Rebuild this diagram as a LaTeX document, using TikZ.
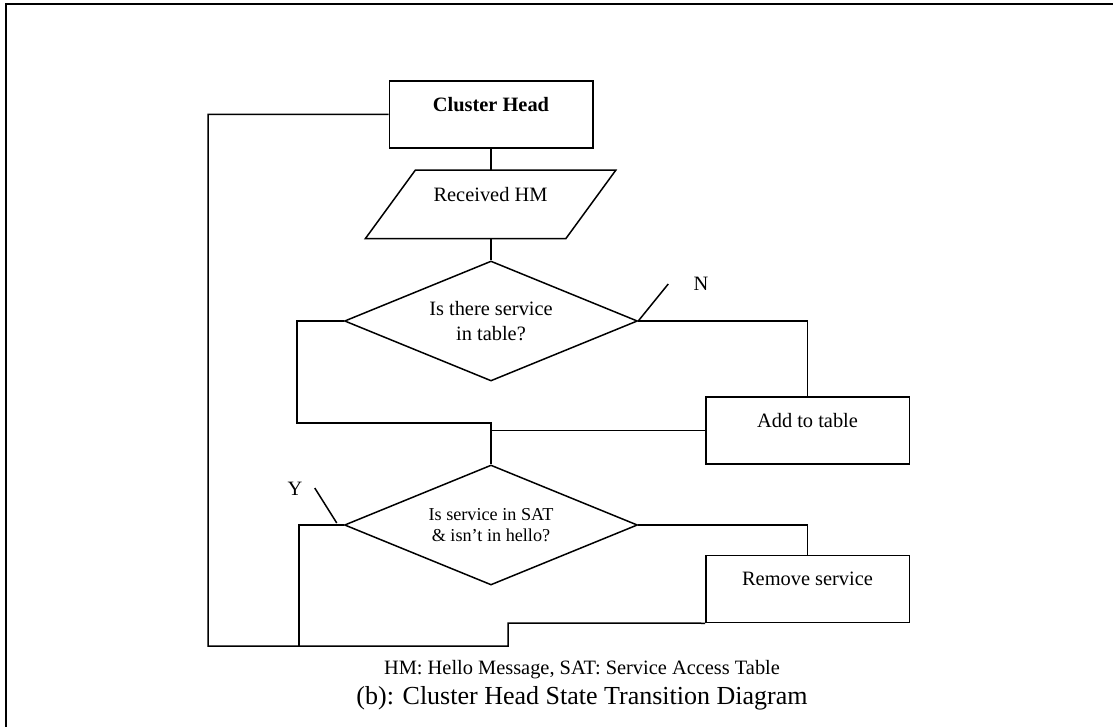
\documentclass[tikz,border=0pt]{standalone}
\usepackage{fontspec}
\setmainfont{Liberation Serif}
\usetikzlibrary{shapes.geometric}

\begin{document}
\begin{tikzpicture}[x=0.5pt, y=-0.5pt, line width=0.75pt,
    font=\fontsize{10.2}{12.5}\selectfont,
    procbox/.style={draw, rectangle, minimum width=101.75pt, minimum height=33.5pt,
        text height=7pt, text depth=10.3pt, inner sep=0pt},
    decision/.style={draw, diamond, aspect=2.44, minimum width=146.5pt, minimum height=60pt,
        align=center, inner sep=0pt}]
    \useasboundingbox (0,0) rectangle (1113,727);
    \draw[line width=1pt] (6,727) -- (6,4) -- (1113,4);

    \node[procbox] (ch) at (491,114.5) {\textbf{Cluster Head}};
    \node[procbox, draw=none, minimum width=124.5pt] (rhm) at (490.5,204.5) {Received HM};
    \draw ([xshift=25pt]rhm.north west) -- (rhm.north east)
        -- ([xshift=-25pt]rhm.south east) -- (rhm.south west) -- cycle;
    \node[decision] (d1) at (491,321) {Is there service\\in table?};
    \node[procbox] (add) at (807.5,430.5) {Add to table};
    \node[decision, font=\fontsize{9.1}{10.5}\selectfont] (d2) at (491,525) {Is service in SAT\\\& isn’t in hello?};
    \node[procbox] (rem) at (807.5,589) {Remove service};

    \coordinate (lp) at (297,423);
    \coordinate (ybot) at (299,646);
    \coordinate (lbot) at (208,646);
    \coordinate (kink) at (508,623);

    \draw (ch.south) -- (ch.south |- rhm.north);
    \draw (rhm.south -| d1.north) -- (d1.north);
    \draw (d1.west) -| (lp) -| (d2.north);
    \draw (d1.east) -| (add.north);
    \draw (add.west) -- (add.west -| d2.north);
    \draw (d2.east) -| (rem.north);
    \draw (d2.west) -| (ybot);
    \draw (ch.west) -| (lbot) -| (kink) -- (rem.south west);

    \draw (d1.east) -- ++(30,-37);
    \node (n) at (701,284) {N};
    \draw ([shift={(-7,-2)}]d2.west) -- ++(-22,-35);
    \node (y) at (295,489) {Y};

    \node (legend) at (582,670) {HM: Hello Message, SAT: Service Access Table};
    \node[font=\fontsize{13}{15}\selectfont] (caption) at (582,698) {(b): Cluster Head State Transition Diagram};
\end{tikzpicture}
\end{document}
